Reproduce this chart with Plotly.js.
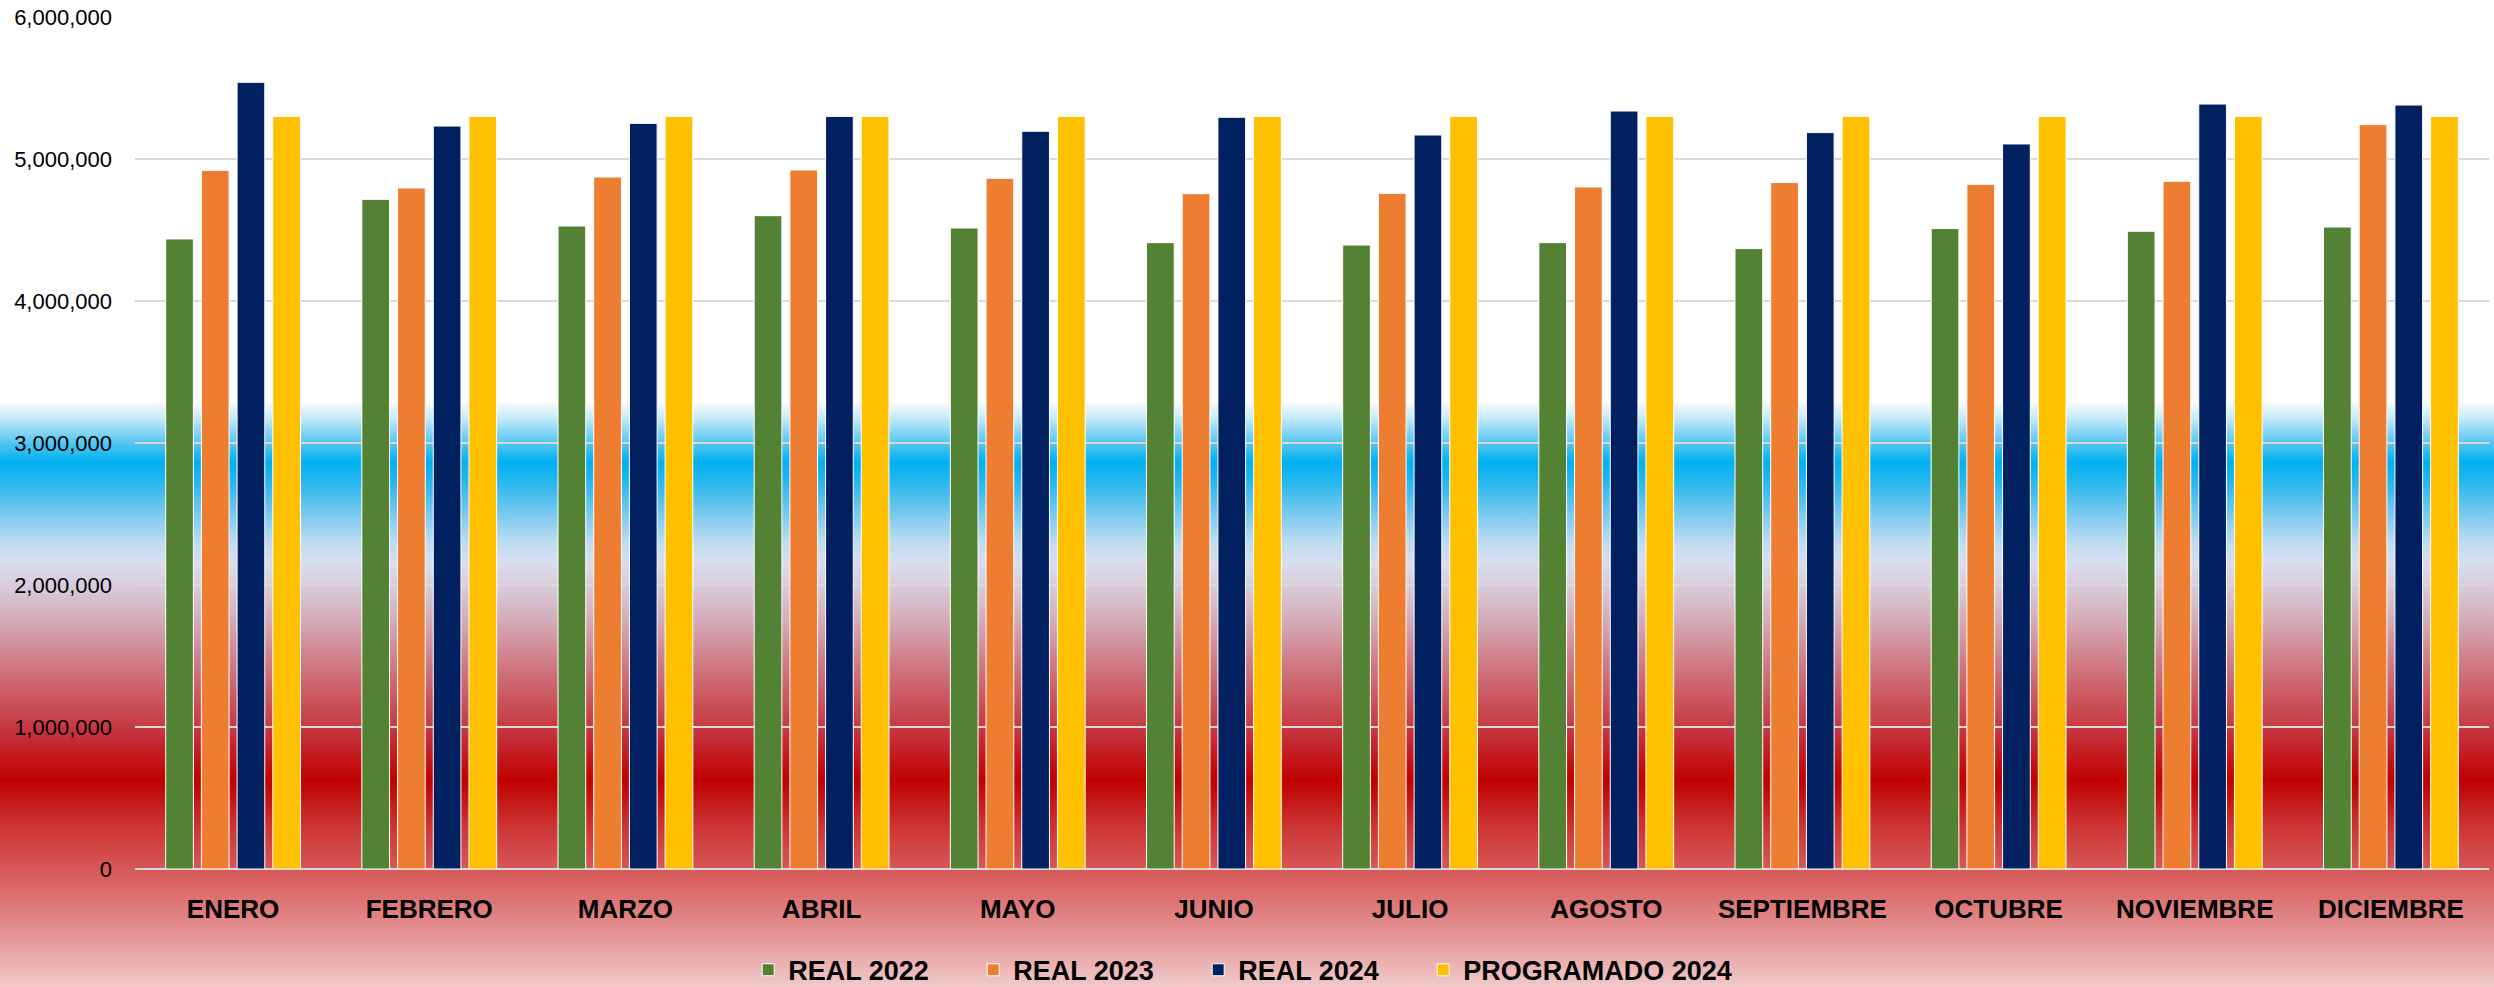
<!DOCTYPE html>
<html>
<head>
<meta charset="utf-8">
<script src="https://cdn.plot.ly/plotly-3.0.1.min.js"></script>
<style>
  html, body { margin: 0; padding: 0; width: 2494px; height: 987px; overflow: hidden; }
  body {
    background: linear-gradient(to bottom,
      #ffffff 0px, #ffffff 403px,
      #eef8fd 405px, #c6ebfa 418px, #8fd8f6 430px, #4cc3f1 445px,
      #00b0f0 462px, #22b6ef 480px, #55c1ee 500px, #8ccff0 522px,
      #bcdcf1 542px, #d9def0 562px, #d8c8d6 590px, #d5abb8 620px,
      #d0848f 655px, #cb5a63 695px, #c5303a 735px, #c00000 780px,
      #c41616 800px, #cc3333 825px, #d45050 860px, #dc6f6f 895px,
      #e38f8f 930px, #eaaeae 960px, #f1c9c9 987px);
  }
  #chart { width: 2494px; height: 987px; }
</style>
</head>
<body>
<div id="chart"></div>
<script>
const months = ['ENERO','FEBRERO','MARZO','ABRIL','MAYO','JUNIO','JULIO','AGOSTO','SEPTIEMBRE','OCTUBRE','NOVIEMBRE','DICIEMBRE'];
const real2022 = [4437000, 4716000, 4528000, 4601000, 4514000, 4411000, 4394000, 4411000, 4369000, 4510000, 4491000, 4521000];
const real2023 = [4920000, 4796000, 4873000, 4923000, 4864000, 4756000, 4758000, 4803000, 4834000, 4822000, 4843000, 5242000];
const real2024 = [5540000, 5232000, 5251000, 5300000, 5195000, 5294000, 5169000, 5338000, 5186000, 5106000, 5387000, 5380000];
const prog2024 = [5300000, 5300000, 5300000, 5300000, 5300000, 5300000, 5300000, 5300000, 5300000, 5300000, 5300000, 5300000];
const seriesNames = ['REAL 2022', 'REAL 2023', 'REAL 2024', 'PROGRAMADO 2024'];
const yTicks = [0, 1000000, 2000000, 3000000, 4000000, 5000000, 6000000];
const yTickText = ['0', '1,000,000', '2,000,000', '3,000,000', '4,000,000', '5,000,000', '6,000,000'];

const colors = ['#548235', '#ED7D31', '#002060', '#FFC000'];
const values = [real2022, real2023, real2024, prog2024];
const legendWidths = [180, 180, 180, 300];

const traces = values.map((v, i) => ({
  type: 'bar',
  name: seriesNames[i],
  x: months,
  y: v,
  marker: { color: colors[i], line: { color: '#ffffff', width: 1 } },
  legendwidth: legendWidths[i],
  hoverinfo: 'x+y+name'
}));

const fam = '"Liberation Sans", Arial, sans-serif';

const layout = {
  width: 2494,
  height: 987,
  paper_bgcolor: 'rgba(0,0,0,0)',
  plot_bgcolor: 'rgba(0,0,0,0)',
  margin: { l: 135, r: 5, t: 17, b: 118, pad: 0 },
  barmode: 'group',
  bargap: 0.272,
  bargroupgap: 0.224,
  font: { family: fam, color: '#000000' },
  xaxis: {
    type: 'category',
    showgrid: false,
    showline: false,
    ticks: '',
    ticklabelstandoff: 22,
    tickfont: { family: fam, size: 26, color: '#000000', weight: 'bold' }
  },
  yaxis: {
    range: [0, 6000000],
    tickvals: yTicks,
    ticktext: yTickText,
    showgrid: true,
    gridcolor: '#d9d9d9',
    gridwidth: 2,
    zeroline: true,
    zerolinecolor: '#d9d9d9',
    zerolinewidth: 2,
    showline: false,
    ticks: '',
    ticklabelstandoff: 22,
    tickfont: { family: fam, size: 22, color: '#000000' }
  },
  showlegend: true,
  legend: {
    orientation: 'h',
    x: 0.300,
    xanchor: 'left',
    xref: 'container',
    y: 0.017,
    yanchor: 'middle',
    yref: 'container',
    bgcolor: 'rgba(0,0,0,0)',
    font: { family: fam, size: 27, color: '#000000', weight: 'bold' },
    itemwidth: 30,
    tracegroupgap: 0
  }
};

Plotly.newPlot('chart', traces, layout, { staticPlot: true, displayModeBar: false });
</script>
</body>
</html>
